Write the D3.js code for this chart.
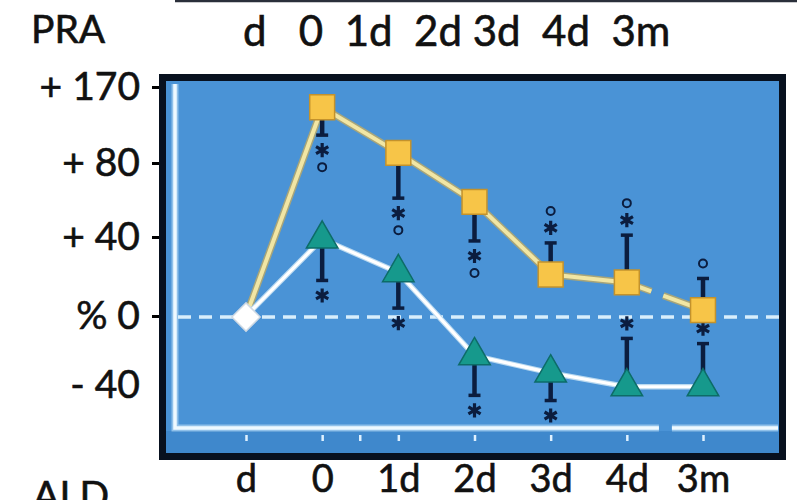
<!DOCTYPE html>
<html>
<head>
<meta charset="utf-8">
<script src="https://cdn.jsdelivr.net/npm/d3@7"></script>
<style>
  html, body { margin: 0; padding: 0; background: #fff; }
  svg { display: block; font-family: Lato, "Open Sans", sans-serif; }
  .lbl { fill: #111; stroke: #111; stroke-width: 0.6px; paint-order: stroke; }
</style>
</head>
<body>
<svg id="chart" width="800" height="500"></svg>
<script>
// Time points: day before, operation day, 1–4 days after, 3 months after
const categories = ["d", "0", "1d", "2d", "3d", "4d", "3m"];

// PRA, % change from baseline (squares)
const praValues = [0, 146, 92, 59, 21, 17, 3];
// far end of each PRA error bar, same units
const praErrEnd = [null, 113, 61, 38, 37, 41, 19];
// significance marks stacked beyond each PRA error bar
const praMarks = [[], ["*", "o"], ["*", "o"], ["*", "o"], ["*", "o"], ["*", "o"], ["o"]];

// ALD, % change from baseline (triangles)
const aldValues = [0, 39, 22, -23, -33, -41, -41];
const aldErrEnd = [null, 18, 4, -46, -49, -13, -16];
const aldMarks = [[], ["*"], ["*"], ["*"], ["*"], ["*"], ["*"]];

// y axis (scale is stretched above +80)
const yTicks = [-40, 0, 40, 80, 170];
const yTickLabels = ["- 40", "% 0", "+ 40", "+ 80", "+ 170"];

// header row of time points belonging to the panel above
const headerText = "d   0  1d  2d 3d  4d  3m";

const svg = d3.select("#chart");
const navy = "#0b1d3f";

// piecewise scale: equal spacing per tick, though the steps differ
const y = d3.scaleLinear().domain(yTicks).range([385, 316, 237, 163, 87]);
const x = d3.scalePoint().domain(categories).range([246, 703]);

// frame of the panel above
svg.append("line")
  .attr("x1", 175).attr("x2", 797).attr("y1", 1).attr("y2", 1)
  .attr("stroke", "#2a2f3a").attr("stroke-width", 2.5);

// labels
svg.append("text").attr("class", "lbl").attr("x", 31).attr("y", 43)
  .attr("font-size", 39).text("PRA");
svg.append("text").attr("class", "lbl").attr("x", 33).attr("y", 509)
  .attr("font-size", 39).text("ALD");
svg.append("text").attr("class", "lbl").attr("x", 243).attr("y", 46)
  .attr("font-size", 42)
  .style("white-space", "pre").text(headerText);

// plot panel
const panel = { x0: 159, y0: 74, x1: 786, y1: 460, bw: 7 };
svg.append("rect")
  .attr("x", panel.x0 + panel.bw / 2).attr("y", panel.y0 + panel.bw / 2)
  .attr("width", panel.x1 - panel.x0 - panel.bw)
  .attr("height", panel.y1 - panel.y0 - panel.bw)
  .attr("fill", "#4a93d6")
  .attr("stroke", "#08111f").attr("stroke-width", panel.bw);
svg.append("rect")
  .attr("x", panel.x0 + panel.bw).attr("y", 431)
  .attr("width", panel.x1 - panel.x0 - 2 * panel.bw).attr("height", 22)
  .attr("fill", "#3f88cc");

// inner L-shaped axis with a break before 3m
const axisY = 428, axisX = 175;
const breakX = (x("4d") + x("3m")) / 2;
const innerAxis = svg.append("g").attr("fill", "none").attr("stroke-linecap", "butt");
[["#bfe0f6", 7, 0.6], ["#eef9ff", 3.5, 1]].forEach(([c, w, o]) => {
  innerAxis.append("path")
    .attr("d", `M${axisX},84V${axisY}H${breakX - 6}`)
    .attr("stroke", c).attr("stroke-width", w).attr("opacity", o);
  innerAxis.append("path")
    .attr("d", `M${breakX + 7},${axisY}H778`)
    .attr("stroke", c).attr("stroke-width", w).attr("opacity", o);
});

// small tick dots below the inner axis
const tickGroup = svg.append("g").attr("transform", "translate(0,435)");
tickGroup.call(d3.axisBottom(x).tickSize(6).tickFormat(""));
tickGroup.select(".domain").remove();
tickGroup.append("g").attr("class", "tick")
  .attr("transform", `translate(${(x("0") + x("1d")) / 2},0)`)
  .append("line").attr("y2", 6);
tickGroup.selectAll(".tick line").attr("stroke", "#dff1ff").attr("stroke-width", 2.5);

// x labels outside the frame
const xLab = svg.append("g").attr("transform", "translate(0,465)")
  .call(d3.axisBottom(x).tickSize(0).tickPadding(0));
xLab.select(".domain").remove();
xLab.selectAll("text").attr("class", "lbl").attr("font-size", 38)
  .attr("font-family", "Lato, 'Open Sans', sans-serif");

// y axis on the left edge of the frame
const yAx = svg.append("g").attr("transform", `translate(${panel.x0},0)`)
  .call(d3.axisLeft(y).tickValues(yTicks)
    .tickFormat((d, i) => yTickLabels[i]).tickSize(7).tickPadding(12));
yAx.select(".domain").remove();
yAx.selectAll(".tick line").attr("stroke", "#000").attr("stroke-width", 3)
  .attr("opacity", d => d === -40 ? 0 : 1);
yAx.selectAll("text").attr("class", "lbl").attr("font-size", 39)
  .attr("font-family", "Lato, 'Open Sans', sans-serif");

// dashed baseline at 0 %
svg.append("line")
  .attr("x1", 178).attr("x2", 780).attr("y1", y(0) + 1).attr("y2", y(0) + 1)
  .attr("stroke", "#d8eefc").attr("stroke-width", 3.5)
  .attr("stroke-dasharray", "13 8");

// series lines
const line = d3.line().x((d, i) => x(categories[i])).y(d => y(d));
// PRA line, broken where the time axis is broken
const cut = x("4d") + 0.4 * (x("3m") - x("4d"));
function praPath() {
  const pts = praValues.map((v, i) => [x(categories[i]), y(v)]);
  const a = pts[5], b = pts[6];
  const t1 = (cut - 6 - a[0]) / (b[0] - a[0]);
  const t2 = (cut + 6 - a[0]) / (b[0] - a[0]);
  const p1 = [cut - 6, a[1] + t1 * (b[1] - a[1])];
  const p2 = [cut + 6, a[1] + t2 * (b[1] - a[1])];
  return d3.line()(pts.slice(0, 6).concat([p1])) + d3.line()([p2, b]);
}
const lines = svg.append("g").attr("fill", "none").attr("stroke-linejoin", "round");
lines.append("path").attr("d", praPath()).attr("stroke", "#a7a57a").attr("stroke-width", 7);
lines.append("path").attr("d", praPath()).attr("stroke", "#f1e6a4").attr("stroke-width", 4);
lines.append("path").attr("d", line(aldValues)).attr("stroke", "#b9d9f0").attr("stroke-width", 5.5);
lines.append("path").attr("d", line(aldValues)).attr("stroke", "#ffffff").attr("stroke-width", 3.2);

// error bars with significance marks
function errorBars(values, ends, marks) {
  const g = svg.append("g");
  values.forEach((v, i) => {
    if (ends[i] === null) return;
    const cx = x(categories[i]);
    const y0 = y(v), y1 = y(ends[i]);
    const dir = Math.sign(y1 - y0);
    g.append("line").attr("x1", cx).attr("x2", cx).attr("y1", y0).attr("y2", y1)
      .attr("stroke", navy).attr("stroke-width", 4.5);
    g.append("line").attr("x1", cx - 6).attr("x2", cx + 6).attr("y1", y1).attr("y2", y1)
      .attr("stroke", navy).attr("stroke-width", 3.5);
    marks[i].forEach((m, k) => {
      const my = y1 + dir * (15 + 17 * k);
      if (m === "*") {
        g.append("path").attr("transform", `translate(${cx},${my})`)
          .attr("d", d3.symbol(d3.symbolAsterisk, 140)())
          .attr("fill", "none").attr("stroke", navy).attr("stroke-width", 3.2);
      } else {
        g.append("circle").attr("cx", cx).attr("cy", my).attr("r", 4)
          .attr("fill", "none").attr("stroke", navy).attr("stroke-width", 2);
      }
    });
  });
}
errorBars(praValues, praErrEnd, praMarks);
errorBars(aldValues, aldErrEnd, aldMarks);

// markers
svg.append("path")
  .attr("transform", `translate(${x("d")},${y(0) + 1}) rotate(45)`)
  .attr("d", d3.symbol(d3.symbolSquare, 400)())
  .attr("fill", "#ffffff").attr("stroke", "#cfd9e3").attr("stroke-width", 1.5);

svg.append("g").selectAll("path")
  .data(praValues.slice(1))
  .join("path")
  .attr("transform", (d, i) => `translate(${x(categories[i + 1])},${y(d)})`)
  .attr("d", d3.symbol(d3.symbolSquare, 620)())
  .attr("fill", "#f7c548").attr("stroke", "#c3922c").attr("stroke-width", 1.5);

svg.append("g").selectAll("path")
  .data(aldValues.slice(1))
  .join("path")
  .attr("transform", (d, i) => `translate(${x(categories[i + 1])},${y(d)})`)
  .attr("d", d3.symbol(d3.symbolTriangle, 430)())
  .attr("fill", "#16998c").attr("stroke", "#0d6c68").attr("stroke-width", 1.5);
</script>
</body>
</html>
